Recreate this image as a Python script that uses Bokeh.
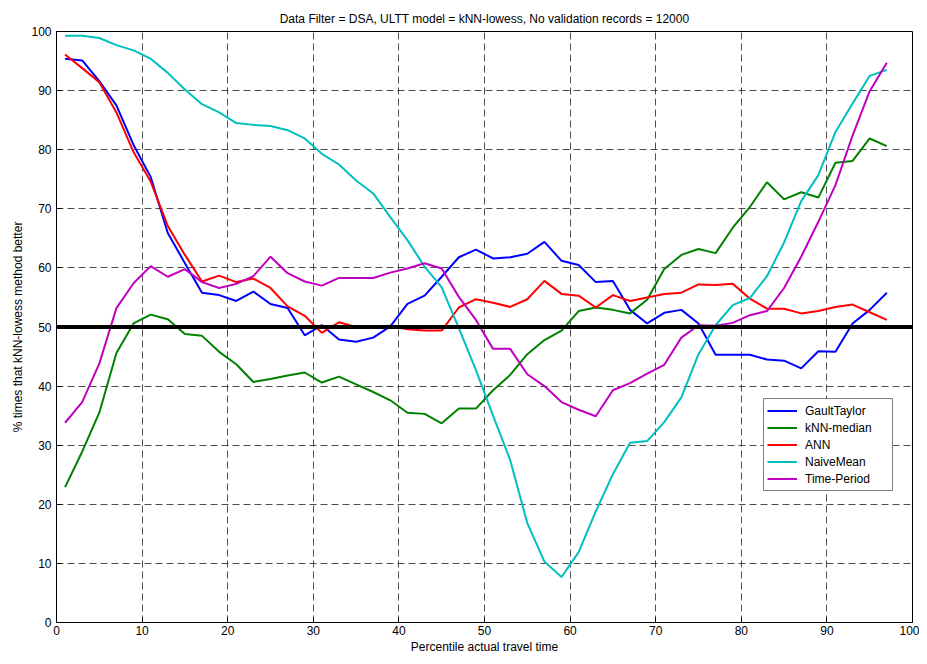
from bokeh.plotting import figure
from bokeh.models import Range1d, Span, Legend, LegendItem, FixedTicker, Title
from bokeh.embed import file_html
from bokeh.resources import INLINE

x = [1, 3, 5, 7, 9, 11, 13, 15, 17, 19, 21, 23, 25, 27, 29, 31, 33, 35, 37, 39, 41, 43, 45, 47, 49,
     51, 53, 55, 57, 59, 61, 63, 65, 67, 69, 71, 73, 75, 77, 79, 81, 83, 85, 87, 89, 91, 93, 95, 97]

gault_taylor = [95.4, 95.1, 91.6, 87.5, 80.8, 75.4, 65.9, 60.8, 55.8, 55.4, 54.4, 56.0, 53.9, 53.2,
                48.6, 50.3, 47.9, 47.5, 48.2, 50.1, 53.9, 55.3, 58.5, 61.8, 63.1, 61.6, 61.8, 62.4,
                64.4, 61.2, 60.5, 57.6, 57.8, 52.9, 50.6, 52.4, 52.9, 50.6, 45.3, 45.3, 45.3, 44.5,
                44.3, 43.0, 45.9, 45.8, 50.6, 52.9, 55.8]
knn_median = [22.9, 28.9, 35.5, 45.6, 50.6, 52.1, 51.3, 48.8, 48.5, 45.8, 43.7, 40.7, 41.2, 41.8,
              42.3, 40.6, 41.6, 40.3, 39.0, 37.6, 35.5, 35.3, 33.7, 36.2, 36.2, 39.3, 41.9, 45.4,
              47.8, 49.4, 52.7, 53.3, 52.9, 52.3, 54.6, 59.8, 62.2, 63.2, 62.5, 66.8, 70.3, 74.5,
              71.6, 72.8, 71.9, 77.8, 78.1, 81.9, 80.6]
ann = [96.1, 93.8, 91.4, 86.3, 79.6, 74.6, 67.1, 62.2, 57.7, 58.7, 57.6, 58.2, 56.6, 53.5,
       51.9, 49.0, 50.8, 50.0, 50.0, 50.2, 49.6, 49.4, 49.4, 53.3, 54.7, 54.1, 53.4, 54.7,
       57.8, 55.6, 55.3, 53.3, 55.4, 54.4, 55.0, 55.6, 55.8, 57.2, 57.1, 57.3, 54.8, 53.1,
       53.1, 52.3, 52.7, 53.4, 53.8, 52.5, 51.2]
naive_mean = [99.3, 99.3, 98.9, 97.7, 96.8, 95.4, 93.0, 90.2, 87.7, 86.3, 84.5, 84.2, 84.0, 83.3,
              81.9, 79.3, 77.5, 74.8, 72.6, 68.6, 64.7, 60.2, 56.7, 49.8, 42.7, 35.0, 27.5, 16.8,
              10.3, 7.7, 11.9, 18.8, 25.1, 30.4, 30.7, 33.9, 38.1, 45.4, 50.3, 53.7, 54.9, 58.6,
              64.3, 71.3, 75.7, 83.0, 87.8, 92.5, 93.5]
time_period = [33.8, 37.3, 43.8, 53.2, 57.4, 60.3, 58.5, 59.8, 57.6, 56.6, 57.3, 58.6, 61.9, 59.1,
               57.7, 57.0, 58.3, 58.3, 58.3, 59.2, 59.9, 60.8, 59.9, 55.1, 51.2, 46.3, 46.3, 42.0,
               40.0, 37.3, 36.0, 34.9, 39.3, 40.5, 42.1, 43.6, 48.2, 50.3, 50.2, 50.7, 52.0, 52.7,
               56.6, 61.9, 67.8, 74.0, 82.4, 89.9, 94.7]

series_names = ["GaultTaylor", "kNN-median", "ANN", "NaiveMean", "Time-Period"]
series_values = [gault_taylor, knn_median, ann, naive_mean, time_period]
series_colors = ["#0000FF", "#008000", "#FF0000", "#00BFBF", "#BF00BF"]

x_ticks = [0, 10, 20, 30, 40, 50, 60, 70, 80, 90, 100]
y_ticks = [0, 10, 20, 30, 40, 50, 60, 70, 80, 90, 100]
reference_level = 50

title_text = "Data Filter = DSA, ULTT model = kNN-lowess, No validation records = 12000"
x_label = "Percentile actual travel time"
y_label = "% times that kNN-lowess method better"

FONT = "Liberation Sans"

p = figure(width=919, height=656, output_backend="svg", toolbar_location=None,
           x_range=Range1d(0, 100), y_range=Range1d(0, 100),
           min_border_left=56, min_border_right=7, min_border_top=31, min_border_bottom=33)
p.background_fill_color = "white"
p.border_fill_color = "white"
p.outline_line_color = "black"
p.outline_line_width = 1

t = Title(text=title_text, align="center", text_font=FONT, text_font_size="12px",
          text_font_style="normal", text_color="black", standoff=11, offset=0)
p.add_layout(t, "above")

for ax, ticks in ((p.xaxis[0], x_ticks), (p.yaxis[0], y_ticks)):
    ax.ticker = FixedTicker(ticks=ticks)
    ax.major_tick_in = 5
    ax.major_tick_out = 0
    ax.minor_tick_in = 0
    ax.minor_tick_out = 0
    ax.axis_line_color = "black"
    ax.major_tick_line_color = "black"
    ax.major_label_text_font = FONT
    ax.major_label_text_font_size = "12px"
    ax.major_label_text_color = "black"
    ax.axis_label_text_font = FONT
    ax.axis_label_text_font_size = "12px"
    ax.axis_label_text_font_style = "normal"
    ax.axis_label_text_color = "black"

p.xaxis[0].axis_label = x_label
p.yaxis[0].axis_label = y_label
p.xaxis[0].major_label_standoff = 3
p.xaxis[0].axis_label_standoff = 2
p.yaxis[0].major_label_standoff = 5
p.yaxis[0].axis_label_standoff = 3

for g, ticks in ((p.xgrid[0], x_ticks), (p.ygrid[0], y_ticks)):
    g.ticker = FixedTicker(ticks=ticks)
    g.grid_line_color = "#222222"
    g.grid_line_dash = "7 4"
    g.grid_line_width = 1
    g.grid_line_alpha = 0.8

items = []
for name, vals, col in zip(series_names, series_values, series_colors):
    r = p.line(x, vals, line_color=col, line_width=2)
    items.append(LegendItem(label=name, renderers=[r]))

p.add_layout(Span(location=reference_level, dimension="width", line_color="black", line_width=4))

legend = Legend(items=items, location=(707, 131), orientation="vertical",
                label_text_font=FONT, label_text_font_size="12px", label_text_color="black",
                glyph_width=30, glyph_height=17, label_height=17, label_width=84, label_standoff=8,
                spacing=0, padding=3, margin=0,
                border_line_color="black", border_line_width=1,
                background_fill_color="white", background_fill_alpha=1.0)
p.add_layout(legend, "center")

open("out.html", "w").write(file_html(p, INLINE))
